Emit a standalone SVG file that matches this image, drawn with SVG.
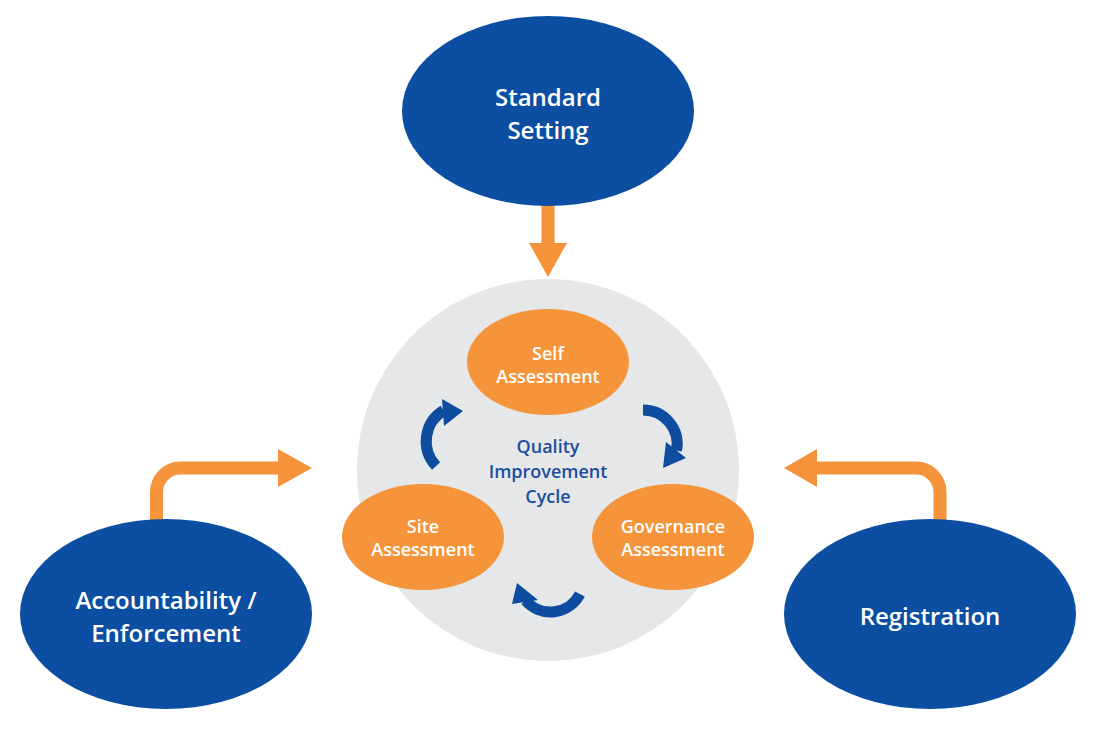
<svg xmlns="http://www.w3.org/2000/svg" width="1095" height="748" viewBox="0 0 1095 748">
<style>
.big{fill:#0B4EA2}
.sub{fill:#F5943A}
.t{font-family:"Open Sans","Liberation Sans",sans-serif;font-weight:600;fill:#fff;text-anchor:middle}
.bt{font-size:24px}
.st{font-size:18px}
.ct{font-family:"Open Sans","Liberation Sans",sans-serif;font-weight:600;fill:#1A4F9F;text-anchor:middle;font-size:18px}
.oa{fill:none;stroke:#F5943A;stroke-width:13}
.oh{fill:#F5943A}
.ba{fill:none;stroke:#0D4C9E;stroke-width:11}
.bh{fill:#0D4C9E}
</style>
<rect width="1095" height="748" fill="#fff"/>
<g id="cycle-bg"><circle cx="548" cy="470" r="191" fill="#E6E7E8"/></g>
<g id="connectors">
  <path class="oa" d="M548,200 V246"/>
  <polygon class="oh" points="529,243 567,243 548,277"/>
  <path class="oa" d="M156.5,524 V492 A24,24 0 0 1 180.5,468 H282"/>
  <polygon class="oh" points="278,449 312,468 278,487"/>
  <path class="oa" d="M940,524 V492 A24,24 0 0 0 916,468 H813"/>
  <polygon class="oh" points="817,449 784,468 817,487"/>
  <path class="ba" d="M436.1,466 A36,36 0 0 1 443.5,410.5"/>
  <polygon class="bh" points="442,399 463,411 444,426"/>
  <path class="ba" d="M643,410 A34,34 0 0 1 676.5,450.5"/>
  <polygon class="bh" points="666,442 686,458 663,468"/>
  <path class="ba" d="M579.9,593.9 A33,33 0 0 1 525.5,600.5"/>
  <polygon class="bh" points="517,583 512,604 538,600"/>
</g>
<g id="standard-setting">
  <ellipse class="big" cx="548" cy="111" rx="146" ry="95"/>
  <text class="t bt" x="548" y="106">Standard</text>
  <text class="t bt" x="548" y="139">Setting</text>
</g>
<g id="accountability">
  <ellipse class="big" cx="166" cy="614" rx="146" ry="95"/>
  <text class="t bt" x="166" y="609">Accountability /</text>
  <text class="t bt" x="166" y="642">Enforcement</text>
</g>
<g id="registration">
  <ellipse class="big" cx="930" cy="614" rx="146" ry="95"/>
  <text class="t bt" x="930" y="625">Registration</text>
</g>
<g id="self-assessment">
  <ellipse class="sub" cx="548" cy="362" rx="81" ry="53"/>
  <text class="t st" x="548" y="360">Self</text>
  <text class="t st" x="548" y="383">Assessment</text>
</g>
<g id="site-assessment">
  <ellipse class="sub" cx="423" cy="537" rx="81" ry="53"/>
  <text class="t st" x="423" y="533">Site</text>
  <text class="t st" x="423" y="556">Assessment</text>
</g>
<g id="governance-assessment">
  <ellipse class="sub" cx="673" cy="537" rx="81" ry="53"/>
  <text class="t st" x="673" y="533">Governance</text>
  <text class="t st" x="673" y="556">Assessment</text>
</g>
<g id="cycle-label">
  <text class="ct" x="548" y="453">Quality</text>
  <text class="ct" x="548" y="478">Improvement</text>
  <text class="ct" x="548" y="503">Cycle</text>
</g>
</svg>
